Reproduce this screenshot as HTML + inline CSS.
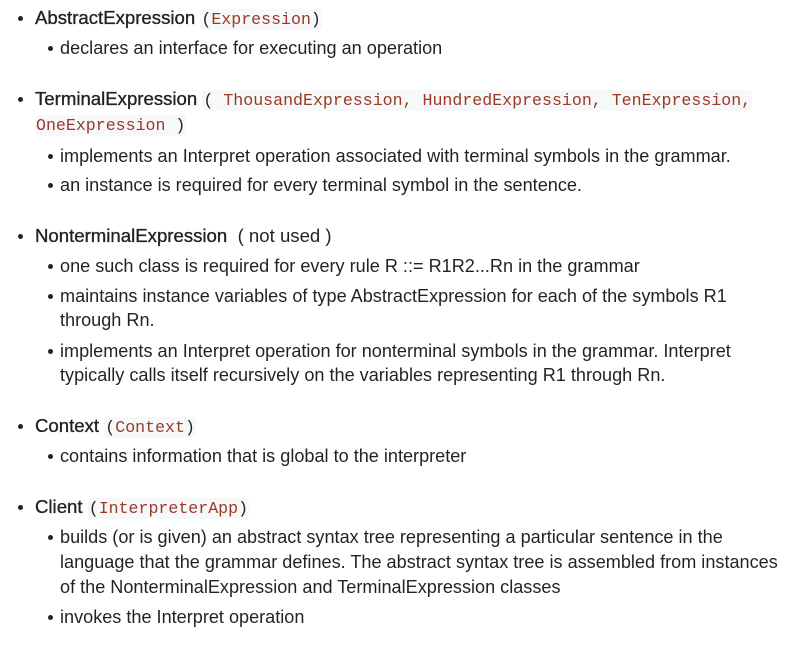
<!DOCTYPE html>
<html><head><meta charset="utf-8"><style>
body{margin:0;width:785px;height:646px;background:#fff;position:relative;overflow:hidden;font-family:"Liberation Sans",sans-serif;font-size:18.1px;color:#1f2328}
.l{position:absolute;left:35px;height:24px;line-height:24px;white-space:nowrap}
.h{font-size:18.6px}
.hn{-webkit-text-stroke:0.35px #1f2328}
.s{left:60px}
.b::before{content:"";position:absolute;left:-17px;top:10px;width:5px;height:5px;border-radius:50%;background:#1f2328}
.s.b::before{left:-12px}
code{font-family:"Liberation Mono",monospace;font-size:16.6px;color:#9b3a24;background:#f6f8fa;padding:1px 1px;border-radius:4px}
.p{color:#1f2328}
</style></head><body>
<div class="l b h" style="top:6px"><span class="hn">AbstractExpression</span> <code><span class="p">(</span>Expression<span class="p">)</span></code></div>
<div class="l s b" style="top:36px">declares an interface for executing an operation</div>

<div class="l b h" style="top:87px"><span class="hn">TerminalExpression</span> <code><span class="p">(</span> ThousandExpression, HundredExpression, TenExpression,</code></div>
<div class="l" style="top:112px"><code>OneExpression <span class="p">)</span></code></div>
<div class="l s b" style="top:144px">implements an Interpret operation associated with terminal symbols in the grammar.</div>
<div class="l s b" style="top:173px">an instance is required for every terminal symbol in the sentence.</div>

<div class="l b h" style="top:224px"><span class="hn">NonterminalExpression</span> &nbsp;( not used )</div>
<div class="l s b" style="top:254px">one such class is required for every rule R ::= R1R2...Rn in the grammar</div>
<div class="l s b" style="top:284px">maintains instance variables of type AbstractExpression for each of the symbols R1</div>
<div class="l s" style="top:308px">through Rn.</div>
<div class="l s b" style="top:339px">implements an Interpret operation for nonterminal symbols in the grammar. Interpret</div>
<div class="l s" style="top:363px">typically calls itself recursively on the variables representing R1 through Rn.</div>

<div class="l b h" style="top:414px"><span class="hn">Context</span> <code><span class="p">(</span>Context<span class="p">)</span></code></div>
<div class="l s b" style="top:444px">contains information that is global to the interpreter</div>

<div class="l b h" style="top:495px"><span class="hn">Client</span> <code><span class="p">(</span>InterpreterApp<span class="p">)</span></code></div>
<div class="l s b" style="top:525px">builds (or is given) an abstract syntax tree representing a particular sentence in the</div>
<div class="l s" style="top:550px">language that the grammar defines. The abstract syntax tree is assembled from instances</div>
<div class="l s" style="top:575px">of the NonterminalExpression and TerminalExpression classes</div>
<div class="l s b" style="top:605px">invokes the Interpret operation</div>
</body></html>
